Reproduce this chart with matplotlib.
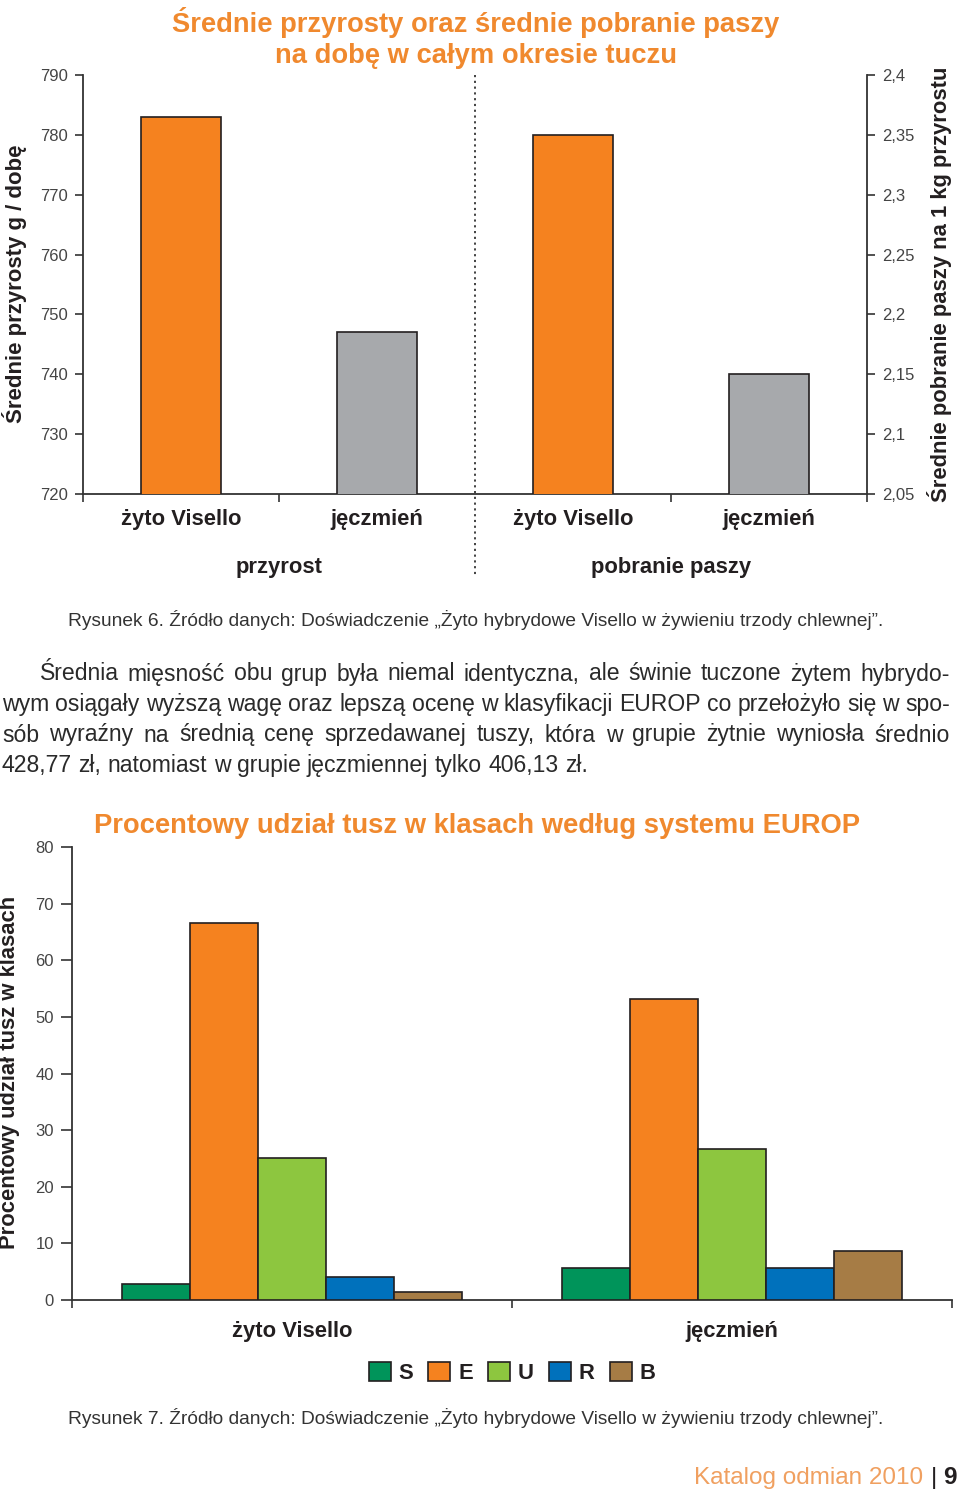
import numpy as np
import matplotlib
matplotlib.use('Agg')
import matplotlib.pyplot as plt
from matplotlib import font_manager
from matplotlib.patches import Patch
from matplotlib.transforms import blended_transform_factory

# --- wykres 1: przyrosty i pobranie paszy ---
groups = ['przyrost', 'pobranie paszy']
feeds = ['żyto Visello', 'jęczmień']
gain = [783, 747]            # g / dobę
feed_use = [2.35, 2.15]      # kg paszy / kg przyrostu
gain_ticks = [720, 730, 740, 750, 760, 770, 780, 790]
feed_ticks = [2.05, 2.1, 2.15, 2.2, 2.25, 2.3, 2.35, 2.4]

# --- wykres 2: klasy EUROP ---
classes = ['S', 'E', 'U', 'R', 'B']
share_rye = [2.8, 66.6, 25.0, 4.1, 1.4]
share_barley = [5.6, 53.2, 26.7, 5.6, 8.6]
share_ticks = [0, 10, 20, 30, 40, 50, 60, 70, 80]

ORANGE = '#F5821F'
GRAY = '#A7A9AC'
TITLE = '#F0892E'
DARK = '#231F20'
class_colors = ['#00945A', '#F5821F', '#8DC63F', '#0071BC', '#A67C45']

W, H = 960, 1499
FONT = 'Liberation Sans'
names = {f.name for f in font_manager.fontManager.ttflist}
NARROW = 'Liberation Sans Narrow' if 'Liberation Sans Narrow' in names else FONT
plt.rcParams['font.family'] = [FONT, 'DejaVu Sans']


def fx(x):
    return x / W


def fy(y):
    return 1 - y / H


def comma(v):
    return ('%g' % v).replace('.', ',')


fig = plt.figure(figsize=(9.6, 14.99), dpi=100)
fig.patch.set_facecolor('white')

# ================= wykres 1 =================
ax = fig.add_axes([fx(83), fy(494), fx(867) - fx(83), fy(75) - fy(494)])
ax2 = ax.twinx()
xs = np.arange(4)
bw = 0.41
ax.bar(xs[:2], gain, width=bw, color=[ORANGE, GRAY], edgecolor=DARK, linewidth=1.2, zorder=3)
ax2.bar(xs[2:], feed_use, width=bw, color=[ORANGE, GRAY], edgecolor=DARK, linewidth=1.2, zorder=3)
ax.set_xlim(-0.5, 3.5)
ax.set_ylim(gain_ticks[0], gain_ticks[-1])
ax2.set_ylim(feed_ticks[0], feed_ticks[-1])
ax.set_yticks(gain_ticks)
ax.set_yticklabels([str(t) for t in gain_ticks])
ax2.set_yticks(feed_ticks)
ax2.set_yticklabels([comma(t) for t in feed_ticks])
ax.set_xticks([-0.5, 0.5, 2.5, 3.5])
ax.set_xticklabels([])
for a in (ax, ax2):
    a.spines['top'].set_visible(False)
    for s in a.spines.values():
        s.set_color('#333333')
        s.set_linewidth(1.3)
    a.tick_params(colors='#333333', labelsize=12, length=6, width=1.2, pad=5)
ax.spines['right'].set_visible(False)
ax2.spines['left'].set_visible(False)
ax2.spines['bottom'].set_visible(False)
for lab in ax.get_yticklabels() + ax2.get_yticklabels():
    lab.set_color('#444444')

tr = blended_transform_factory(ax.transData, fig.transFigure)
ax.plot([1.5, 1.5], [fy(75), fy(575)], transform=tr, clip_on=False,
        color='#333333', lw=1.3, ls=(0, (1.2, 2.0)))
for i in range(4):
    ax.text(xs[i], fy(520), feeds[i % 2], transform=tr, ha='center', va='center',
            fontsize=15.8, fontweight='bold', color=DARK)
for i, g in enumerate(groups):
    ax.text(0.5 + 2 * i, fy(567), g, transform=tr, ha='center', va='center',
            fontsize=15.8, fontweight='bold', color=DARK)

fig.text(fx(476), fy(23), 'Średnie przyrosty oraz średnie pobranie paszy',
         ha='center', va='center', fontsize=19.7, fontweight='bold', color=TITLE)
fig.text(fx(476), fy(56), 'na dobę w całym okresie tuczu',
         ha='center', va='center', fontsize=19.7, fontweight='bold', color=TITLE)
fig.text(fx(15), fy(284), 'Średnie przyrosty g / dobę', rotation=90, ha='center', va='center',
         fontsize=16, fontweight='bold', color=DARK)
fig.text(fx(940), fy(284), 'Średnie pobranie paszy na 1 kg przyrostu', rotation=90, ha='center',
         va='center', fontsize=15.8, fontweight='bold', color=DARK)

caption = 'Źródło danych: Doświadczenie „Żyto hybrydowe Visello w żywieniu trzody chlewnej”.'
fig.text(fx(68), fy(620), 'Rysunek 6. ' + caption, ha='left', va='center', fontsize=13.8,
         color='#333333')

# ================= akapit =================
para = [
    ('Średnia mięsność obu grup była niemal identyczna, ale  świnie tuczone żytem hybrydo-', 40, True),
    ('wym osiągały wyższą wagę oraz lepszą ocenę w klasyfikacji EUROP co przełożyło się w spo-', 2, True),
    ('sób wyraźny na średnią cenę sprzedawanej tuszy, która w grupie żytnie wyniosła średnio', 2, True),
    ('428,77 zł, natomiast w grupie jęczmiennej tylko 406,13 zł.', 2, False),
]
renderer = fig.canvas.get_renderer()
PSIZE = 16.6
probe_a = fig.text(0, 0, 'x x', fontsize=PSIZE, family=NARROW)
probe_b = fig.text(0, 0, 'xx', fontsize=PSIZE, family=NARROW)
space_w = probe_a.get_window_extent(renderer).width - probe_b.get_window_extent(renderer).width
probe_a.remove()
probe_b.remove()
for k, (line, x0, just) in enumerate(para):
    y = fy(674 + 30.5 * k)
    words = line.split()
    texts = [fig.text(0, y, w, fontsize=PSIZE, family=NARROW, color='#2a2a2a', va='center')
             for w in words]
    widths = [t.get_window_extent(renderer).width for t in texts]
    if just:
        gap = (950 - x0 - sum(widths)) / (len(words) - 1)
    else:
        gap = space_w
    x = x0
    for t, wd in zip(texts, widths):
        t.set_x(fx(x))
        x += wd + gap

# ================= wykres 2 =================
bx = fig.add_axes([fx(72), fy(1300), fx(952) - fx(72), fy(847) - fy(1300)])
cw = 0.1545
pos = np.arange(2)
for j, c in enumerate(classes):
    bx.bar(pos + (j - 2) * cw, [share_rye[j], share_barley[j]], width=cw,
           color=class_colors[j], edgecolor=DARK, linewidth=1.2, label=c, zorder=3)
bx.set_xlim(-0.5, 1.5)
bx.set_ylim(share_ticks[0], share_ticks[-1])
bx.set_yticks(share_ticks)
bx.set_xticks([-0.5, 0.5, 1.5])
bx.set_xticklabels([])
bx.spines['top'].set_visible(False)
bx.spines['right'].set_visible(False)
for s in bx.spines.values():
    s.set_color('#333333')
    s.set_linewidth(1.3)
bx.tick_params(colors='#333333', labelsize=12, length=8, width=1.2, pad=5)
bx.tick_params(axis='x', length=6)
for lab in bx.get_yticklabels():
    lab.set_color('#444444')
tr2 = blended_transform_factory(bx.transData, fig.transFigure)
for i in range(2):
    bx.text(pos[i], fy(1331), feeds[i], transform=tr2, ha='center', va='center',
            fontsize=15.8, fontweight='bold', color=DARK)

fig.text(fx(477), fy(826), 'Procentowy udział tusz w klasach według systemu EUROP', ha='center',
         va='center', fontsize=19.7, fontweight='bold', color=TITLE)
fig.text(fx(10), fy(1072), 'Procentowy udział tusz w klasach', rotation=90, ha='center',
         va='center', fontsize=15.8, fontweight='bold', color=DARK)

handles = [Patch(facecolor=class_colors[j], edgecolor=DARK, linewidth=1.2) for j in range(5)]
leg = fig.legend(handles, classes, loc='center', bbox_to_anchor=(fx(512), fy(1373)), ncol=5,
                 frameon=False, handlelength=1.0, handleheight=1.0, handletextpad=0.35,
                 columnspacing=0.7, prop={'family': FONT, 'weight': 'bold', 'size': 15.8})
for t in leg.get_texts():
    t.set_color(DARK)

fig.text(fx(68), fy(1418), 'Rysunek 7. ' + caption, ha='left', va='center', fontsize=13.8,
         color='#333333')

fig.text(fx(923), fy(1478), 'Katalog odmian 2010', ha='right', va='center', fontsize=17.5,
         color='#F0A060')
fig.text(fx(934), fy(1478), '|', ha='center', va='center', fontsize=17.5, color=DARK)
fig.text(fx(950), fy(1478), '9', ha='center', va='center', fontsize=17.5, fontweight='bold',
         color=DARK)

fig.savefig('out.png', dpi=100, facecolor='white')
